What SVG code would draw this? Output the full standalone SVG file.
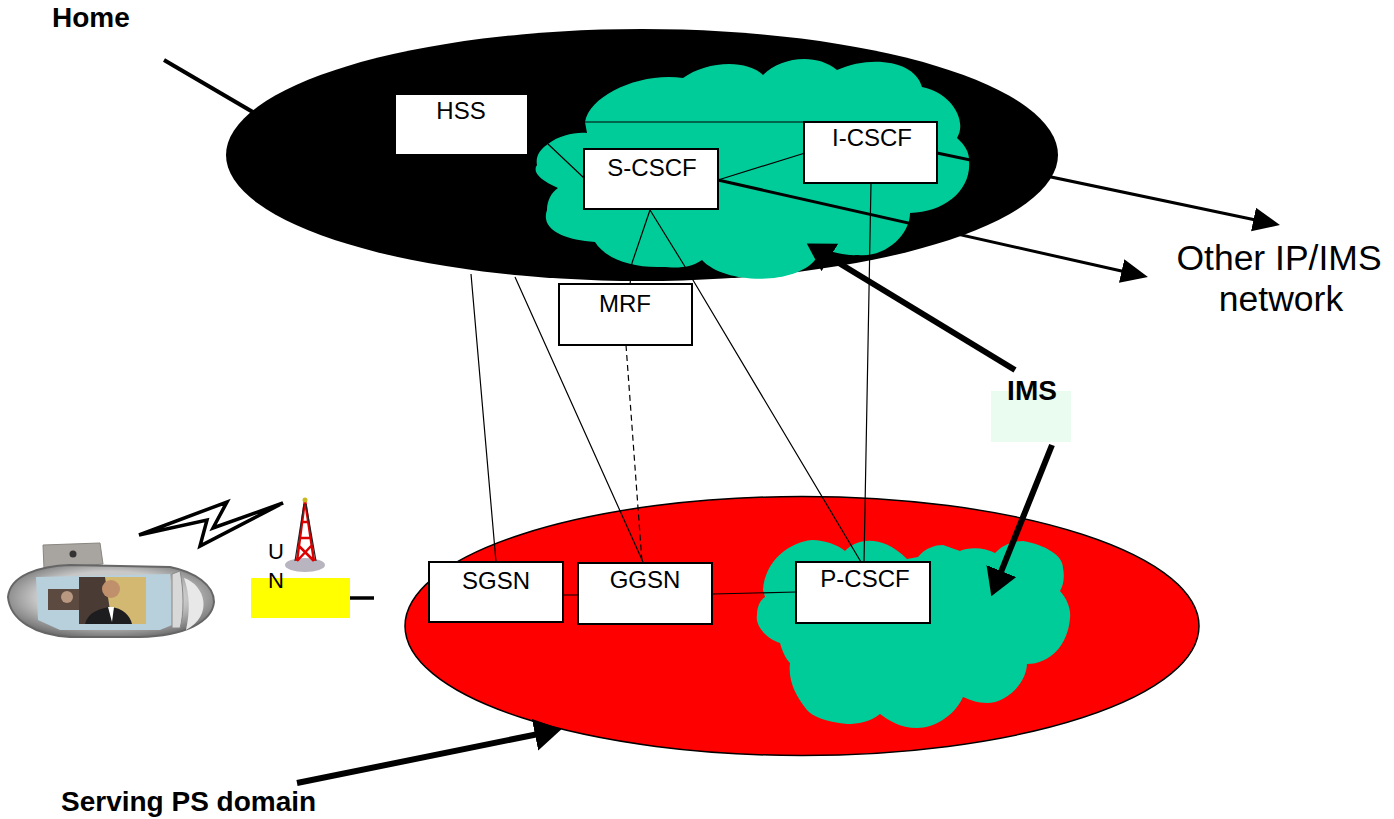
<svg xmlns="http://www.w3.org/2000/svg" width="1394" height="819" viewBox="0 0 1394 819">
<style>
text{font-family:"Liberation Sans",Arial,sans-serif;fill:#000}
.lbl{font-size:24px;text-anchor:middle}
.bold{font-weight:bold;font-size:28px}
.big{font-size:35.500px;text-anchor:middle}
.box{fill:#fff;stroke:#000;stroke-width:2}
.thin{fill:none;stroke:#000;stroke-width:1.2}
.med{fill:none;stroke:#000;stroke-width:3}
.thick{fill:none;stroke:#000;stroke-width:6}
.cloud{fill:#00cc99}
</style>
<defs>
<marker id="ah" markerUnits="userSpaceOnUse" markerWidth="30" markerHeight="34" refX="1" refY="16" orient="auto"><path d="M0 0L27 16L0 32Z" fill="#000"/></marker>
<marker id="ahs" markerUnits="userSpaceOnUse" markerWidth="30" markerHeight="28" refX="1" refY="12" orient="auto"><path d="M0 0L27 12L0 24Z" fill="#000"/></marker>
<radialGradient id="body" cx="0.5" cy="0.45" r="0.6"><stop offset="0.6" stop-color="#c8c8c8"/><stop offset="1" stop-color="#666"/></radialGradient>
</defs>
<g id="home-domain">
<line x1="164" y1="60" x2="258" y2="115" stroke="#000" stroke-width="4"/>
<ellipse cx="642" cy="155" rx="416" ry="126" fill="#000"/>
</g>
<g id="serving-domain"><ellipse cx="802" cy="626" rx="397" ry="129.500" fill="#f00" stroke="#000" stroke-width="1.500"/></g>
<g id="ims-cloud-home"><path class="cloud" d="M585 122C590 95 640 72 683 78C705 62 745 58 763 75C780 58 815 52 837 70C870 55 915 60 922 87C950 92 968 120 957 138C965 145 969 152 969 160C972 190 945 212 910 213C910 235 885 258 858 255C845 256 835 252 825 250L815 260C795 285 725 285 702 260C690 268 680 268 662 267C630 268 605 258 595 242C565 240 540 230 547 210C547 200 552 192 558 188C540 180 532 172 537 165C535 155 542 148 548 144C560 135 575 132 587 133Z"/></g>
<g id="ims-cloud-serving"><path class="cloud" d="M763 590C765 560 790 542 812 540C825 540 838 545 845 551C855 540 880 532 907 559L918 557C925 548 935 545 943 545L960 551C968 547 985 547 995 553C1005 543 1015 541 1023 541C1045 545 1063 555 1063 568C1065 578 1063 586 1060 591C1068 600 1071 610 1070 618C1068 645 1050 664 1027 664C1026 685 1005 703 987 703C978 703 970 700 963 697C955 715 935 728 917 728C900 728 888 720 880 714C870 722 858 724 847 724C825 722 812 716 807 710C795 695 788 680 790 663C785 658 782 650 780 643C765 638 755 625 757 615C757 607 760 600 765 597Z"/></g>
<g id="connectors">
<path class="thin" d="M585 122L805 122M548 144L584 178M805 153L718 180M650 210L632 263M650 210L684 265M871 183L864 562M471 274L496 562M515 277L643 562M684 265L861 562M632 263L630 285M713 594L796 592M563 595L578 595"/>
<path class="thin" stroke-dasharray="6 4" d="M626 345L642 562"/>
<path class="med" d="M718 180L1122.600 271.300" marker-end="url(#ahs)"/>
<path class="med" d="M937 153L1254.500 219.700" marker-end="url(#ahs)"/>
<path class="thick" d="M1015 370L829 257" marker-end="url(#ah)"/>
<path class="thick" d="M1052 445L1001 572" marker-end="url(#ah)"/>
<path class="thick" d="M297 783L536 734.500" marker-end="url(#ah)"/>
<path fill="none" stroke="#000" stroke-width="3.500" stroke-linejoin="miter" d="M139 535L227 502L213 528L283 503L200 546L207 520Z"/>
<line x1="350" y1="598" x2="374" y2="598" stroke="#000" stroke-width="3.500"/>
</g>
<g id="hss"><rect x="396" y="95" width="131" height="59" fill="#fff"/><text class="lbl" x="461" y="119">HSS</text></g>
<g id="s-cscf"><rect class="box" x="584" y="149" width="134" height="60"/><text class="lbl" x="652" y="176">S-CSCF</text></g>
<g id="i-cscf"><rect class="box" x="804" y="122" width="133" height="61"/><text class="lbl" x="872" y="146">I-CSCF</text></g>
<g id="mrf"><rect class="box" x="559" y="284" width="133" height="61"/><text class="lbl" x="625" y="312">MRF</text></g>
<g id="sgsn"><rect class="box" x="429" y="562" width="134" height="60"/><text class="lbl" x="496" y="589">SGSN</text></g>
<g id="ggsn"><rect class="box" x="578" y="563" width="134" height="61"/><text class="lbl" x="645" y="588">GGSN</text></g>
<g id="p-cscf"><rect class="box" x="796" y="562" width="134" height="61"/><text class="lbl" x="865" y="587">P-CSCF</text></g>
<g id="ims"><rect x="991" y="391" width="80" height="51" fill="#eafbef"/><text class="bold" x="1032" y="400" text-anchor="middle">IMS</text></g>
<g id="utran">
<rect x="251" y="578" width="99" height="40" fill="#ff0"/>
<text x="268" y="559" font-size="22">U</text><text x="268" y="588" font-size="22">N</text>
<ellipse cx="305" cy="565" rx="20" ry="7" fill="#b8b4c0"/>
<path d="M305 500L297 561M305 500L314 561M298 545L314 561M312 545L297 561M300 538H311M302 522H308" fill="none" stroke="#d00" stroke-width="2.500"/>
<path d="M304 504L295 561M306 504L316 561" fill="none" stroke="#222" stroke-width="1.200"/>
<circle cx="305" cy="500" r="2.500" fill="#c8b820"/>
</g>
<g id="handset">
<path d="M44 569L43 545L100 543L103 564Z" fill="#a8a4a0" stroke="#8a8680"/>
<circle cx="73" cy="554" r="3.500" fill="#333"/>
<path d="M8 597C10 575 40 566 70 565L170 567C195 572 214 585 214 602C212 622 185 636 140 637H70C35 635 10 620 8 597Z" fill="url(#body)" stroke="#666" stroke-width="2"/>
<path d="M36 577L170 574L172 625L160 630H60L38 620Z" fill="#b7d0dc"/>
<rect x="48" y="589" width="33" height="21" fill="#5c4a40"/>
<circle cx="67" cy="597" r="6" fill="#b89880"/>
<rect x="79" y="577" width="67" height="47" fill="#d2b870"/>
<path d="M79 577H105L112 624H79Z" fill="#4a3c34"/>
<circle cx="111" cy="589" r="9" fill="#c0906c"/>
<path d="M85 624C88 612 100 608 111 607C122 608 130 615 132 624Z" fill="#1d1d20"/>
<path d="M108 607H114L112 622Z" fill="#fff"/>
<path d="M172 574L180 571C184 590 184 615 180 628L172 628Z" fill="#d8d8d8" stroke="#888"/>
<path d="M184 578C205 585 214 615 186 630C190 612 190 595 184 578Z" fill="#e8e8e8"/>
</g>
<g id="labels">
<text class="bold" x="52" y="27">Home</text>
<text class="bold" x="61" y="811">Serving PS domain</text>
<text class="big" x="1279" y="270">Other IP/IMS</text>
<text class="big" x="1281" y="311">network</text>
</g>
</svg>
